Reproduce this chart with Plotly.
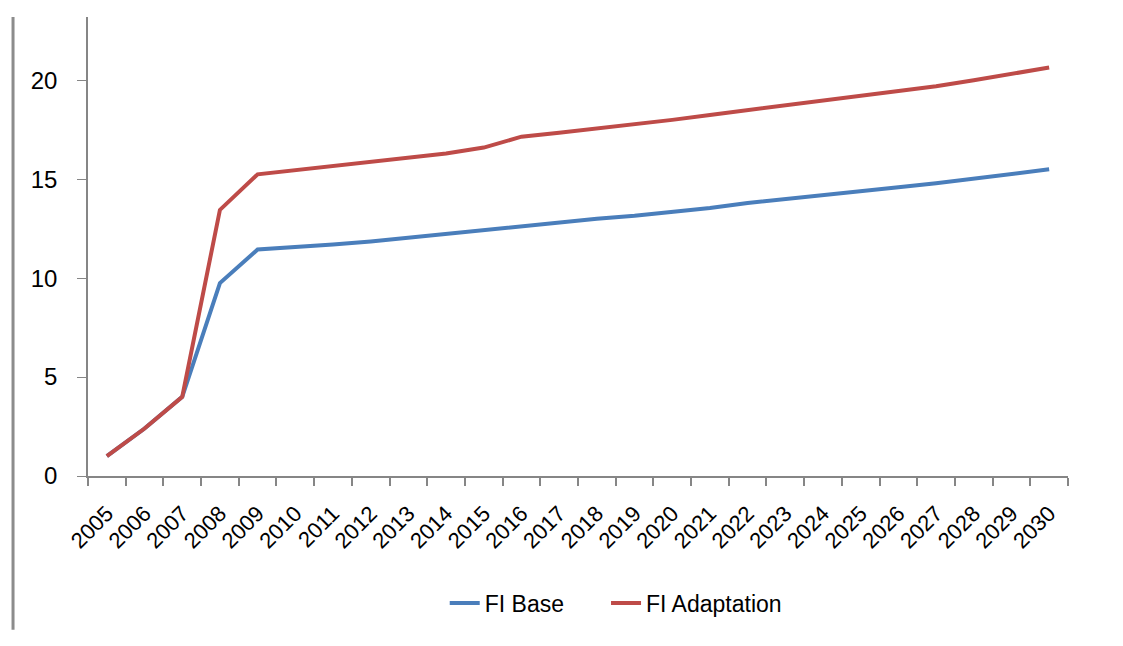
import plotly.graph_objects as go

years = [str(y) for y in range(2005, 2031)]
fi_base = [1.0, 2.4, 4.0, 9.75, 11.45, 11.55, 11.7, 11.85, 12.05, 12.2, 12.4,
           12.6, 12.8, 13.0, 13.15, 13.35, 13.55, 13.8, 14.0, 14.15, 14.35,
           14.6, 14.8, 15.05, 15.25, 15.5]
fi_adapt = [1.0, 2.4, 4.0, 13.45, 15.25, 15.45, 15.65, 15.85, 16.1, 16.3, 16.6,
            17.15, 17.35, 17.55, 17.8, 18.0, 18.25, 18.5, 18.7, 18.95, 19.2,
            19.45, 19.7, 20.0, 20.3, 20.65]
y_ticks = [0, 5, 10, 15, 20]

FONT = "Liberation Sans"
GRAY = "#868686"

fig = go.Figure()
fig.add_trace(go.Scatter(x=years, y=fi_base, mode="lines", name="FI Base",
                         line=dict(color="#4A7EBB", width=4), legend="legend"))
fig.add_trace(go.Scatter(x=years, y=fi_adapt, mode="lines", name="FI Adaptation",
                         line=dict(color="#BE4B48", width=4), legend="legend2"))

fig.add_shape(type="line", xref="paper", yref="paper",
              x0=-0.0765, x1=-0.0765, y0=1.0, y1=-0.335,
              line=dict(color="#8c8c8c", width=3))

leg = dict(orientation="h", xanchor="left", y=-0.277, yanchor="middle",
           font=dict(size=23), bgcolor="rgba(0,0,0,0)")
fig.update_layout(
    width=1123, height=646,
    margin=dict(l=88, r=55, t=17, b=170),
    paper_bgcolor="white", plot_bgcolor="white",
    font=dict(family=FONT, size=22, color="black"),
    showlegend=True,
    legend=dict(x=0.364, **leg),
    legend2=dict(x=0.5286, **leg),
)
fig.update_xaxes(type="category", showline=True, linecolor=GRAY, linewidth=2,
                 ticks="outside", tickson="boundaries", ticklen=8, tickcolor=GRAY,
                 tickwidth=1.5, tickangle=-45, showgrid=False, zeroline=False,
                 tickfont=dict(size=22), range=[-0.5, 25.5], automargin=False,
                 ticklabelstandoff=14)
fig.update_yaxes(range=[0, 23.2], tickvals=y_ticks, showline=True, linecolor=GRAY,
                 linewidth=1.5, ticks="outside", ticklen=9, tickcolor=GRAY,
                 showgrid=False, zeroline=False, tickfont=dict(size=24),
                 ticklabelstandoff=15, automargin=False)

fig.write_html("out.html", config={"displayModeBar": False},
               post_script="document.body.style.margin='0';")
